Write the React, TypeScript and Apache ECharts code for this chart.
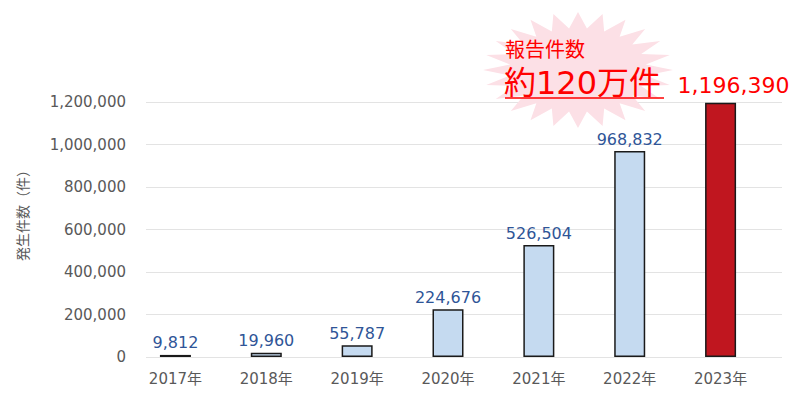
import React, { useEffect, useRef } from "react";
import * as echarts from "echarts";

const years = ["2017年", "2018年", "2019年", "2020年", "2021年", "2022年", "2023年"];
const counts = [9812, 19960, 55787, 224676, 526504, 968832, 1196390];
const highlightIndex = 6;
const yMax = 1200000;
const yStep = 200000;

const FONT = "'DejaVu Sans', 'Noto Sans CJK JP', sans-serif";
const JP = "'Noto Sans CJK JP', sans-serif";

// 爆発マークの頂点
const burstPoints = (cx: number, cy: number, rx: number, ry: number, n: number) => {
  const pts: number[][] = [];
  for (let i = 0; i < n * 2; i++) {
    const a = (Math.PI * i) / n - Math.PI / 2;
    const k = i % 2 === 0 ? 1 : 0.72;
    pts.push([cx + rx * k * Math.cos(a), cy + ry * k * Math.sin(a)]);
  }
  return pts;
};

const App: React.FC = () => {
  const chartRef = useRef<HTMLDivElement>(null);

  useEffect(() => {
    document.body.style.margin = "0";
    if (!chartRef.current) return;
    const chart = echarts.init(chartRef.current, null, { renderer: "svg" });

    const option: echarts.EChartsOption = {
      animation: false,
      textStyle: { fontFamily: FONT },
      // grid 0: 棒, grid 1: 目盛線とY軸ラベル（Excel風に少し右へずれている）
      grid: [
        { left: 130, right: 34, top: 102, bottom: 43 },
        { left: 146, right: 18, top: 102, bottom: 43 },
      ],
      xAxis: [
        {
          type: "category",
          gridIndex: 0,
          data: years,
          axisTick: { show: false },
          axisLine: { show: false },
          axisLabel: { color: "#595959", fontSize: 15, margin: 14, fontFamily: FONT },
        },
        { type: "value", gridIndex: 1, show: false, min: 0, max: 1 },
      ],
      yAxis: [
        { type: "value", gridIndex: 0, min: 0, max: yMax, interval: yStep, show: false },
        {
          type: "value",
          gridIndex: 1,
          min: 0,
          max: yMax,
          interval: yStep,
          axisLine: { show: false },
          axisTick: { show: false },
          axisLabel: {
            color: "#595959",
            fontSize: 15,
            margin: 20,
            fontFamily: FONT,
            formatter: (v: number) => v.toLocaleString("en-US"),
          },
          splitLine: { lineStyle: { color: "#e3e3e3" } },
        },
      ],
      series: [
        {
          type: "bar",
          xAxisIndex: 0,
          yAxisIndex: 0,
          barWidth: 31,
          z: 3,
          data: counts.map((v, i) => ({
            value: v,
            itemStyle: {
              color: i === highlightIndex ? "#c0161f" : "#c5daf0",
              borderColor: "#1a1a1a",
              borderWidth: 1.5,
            },
            label:
              i === highlightIndex
                ? { color: "#ff0000", fontSize: 22, distance: 6, offset: [13, 0] }
                : { color: "#2f5597", fontSize: 16 },
          })),
          label: {
            show: true,
            position: "top",
            distance: 4,
            fontFamily: FONT,
            formatter: (p: any) => Number(p.value).toLocaleString("en-US"),
          },
        },
      ],
      graphic: [
        {
          type: "text",
          x: 22,
          y: 212,
          rotation: Math.PI / 2,
          style: {
            text: "発生件数（件）",
            fill: "#595959",
            fontSize: 14,
            fontFamily: JP,
            align: "center",
            verticalAlign: "middle",
          },
        },
        {
          type: "polygon",
          shape: { points: burstPoints(578, 70, 95, 58, 24) },
          style: { fill: "#fce0e6" },
          z: 10,
        },
        {
          type: "text",
          x: 505,
          y: 48,
          style: {
            text: "報告件数",
            fill: "#ff0000",
            fontSize: 20,
            lineHeight: 20,
            fontFamily: JP,
            verticalAlign: "middle",
          },
          z: 11,
        },
        {
          type: "text",
          x: 504,
          y: 83,
          style: {
            text: "約120万件",
            fill: "#ff0000",
            fontSize: 32,
            lineHeight: 30,
            fontFamily: FONT,
            verticalAlign: "middle",
          },
          z: 11,
        },
        {
          type: "line",
          shape: { x1: 505, y1: 98, x2: 664, y2: 98 },
          style: { stroke: "#ff0000", lineWidth: 1.5 },
          z: 11,
        },
      ],
    };

    chart.setOption(option);
    return () => chart.dispose();
  }, []);

  return <div ref={chartRef} style={{ width: 800, height: 400 }} />;
};

export default App;
